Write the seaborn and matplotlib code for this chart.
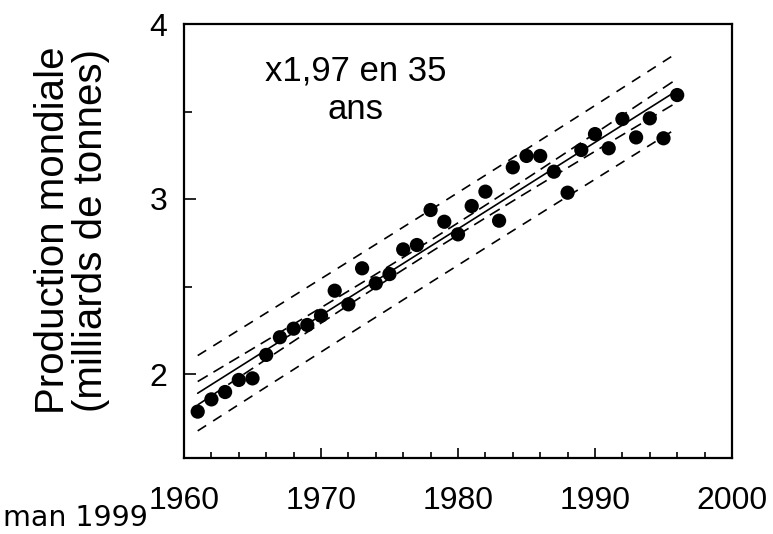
import numpy as np
import pandas as pd
import matplotlib
matplotlib.use("Agg")
import matplotlib.pyplot as plt
from matplotlib.ticker import MultipleLocator
import seaborn as sns

# ---- data ----
years = [1961, 1962, 1963, 1964, 1965, 1966, 1967, 1968, 1969, 1970,
         1971, 1972, 1973, 1974, 1975, 1976, 1977, 1978, 1979, 1980,
         1981, 1982, 1983, 1984, 1985, 1986, 1987, 1988, 1989, 1990,
         1991, 1992, 1993, 1994, 1995, 1996]
production = [1.785, 1.855, 1.897, 1.966, 1.975, 2.109, 2.210, 2.259, 2.280, 2.333,
              2.476, 2.398, 2.604, 2.518, 2.571, 2.712, 2.737, 2.937, 2.870, 2.798,
              2.960, 3.042, 2.876, 3.181, 3.246, 3.246, 3.156, 3.036, 3.280, 3.371,
              3.290, 3.457, 3.352, 3.461, 3.347, 3.594]
xticks = [1960, 1970, 1980, 1990, 2000]
yticks = [2, 3, 4]
annotation = "x1,97 en 35\nans"
ylabel = "Production mondiale\n(milliards de tonnes)"
source = "man 1999"

df = pd.DataFrame({"year": years, "prod": production})

# ---- linear fit with confidence / prediction bands ----
x = np.asarray(years, float)
y = np.asarray(production, float)
n = len(x)
slope, intercept = np.polyfit(x, y, 1)
resid = y - (slope * x + intercept)
s = np.sqrt(np.sum(resid ** 2) / (n - 2))
t975 = 2.032  # Student t, 34 dof
xx = np.linspace(x.min(), x.max(), 200)
fit = slope * xx + intercept
sxx = np.sum((x - x.mean()) ** 2)
conf = t975 * s * np.sqrt(1 / n + (xx - x.mean()) ** 2 / sxx)
pred = t975 * s * np.sqrt(1 + 1 / n + (xx - x.mean()) ** 2 / sxx)
bands = pd.DataFrame({"x": xx, "fit": fit,
                      "clo": fit - conf, "chi": fit + conf,
                      "plo": fit - pred, "phi": fit + pred})

# ---- style ----
sns.set_theme(style="ticks")
plt.rcParams["font.family"] = ["Liberation Sans", "DejaVu Sans"]
for key in ("text.color", "axes.labelcolor", "xtick.color", "ytick.color",
            "xtick.labelcolor", "ytick.labelcolor"):
    plt.rcParams[key] = "black"

fig = plt.figure(figsize=(7.73, 5.34), dpi=100)
ax = fig.add_axes([184 / 773, 1 - 458 / 534, (732 - 184) / 773, (458 - 24) / 534])

sns.lineplot(data=bands, x="x", y="fit", ax=ax, color="black", lw=1.2)
for col in ("clo", "chi"):
    sns.lineplot(data=bands, x="x", y=col, ax=ax, color="black", lw=1.2,
                 linestyle=(0, (7, 4)))
for col in ("plo", "phi"):
    sns.lineplot(data=bands, x="x", y=col, ax=ax, color="black", lw=1.2,
                 linestyle=(0, (6, 5)))

sns.scatterplot(data=df, x="year", y="prod", ax=ax, color="black",
                s=105, edgecolor="none", zorder=5)

ax.set_xlim(1960, 2000)
ax.set_ylim(1.52, 4.0)
ax.set_xticks(xticks)
ax.set_xticklabels([str(v) for v in xticks])
ax.set_yticks(yticks)
ax.set_yticklabels([str(v) for v in yticks])
ax.xaxis.set_minor_locator(MultipleLocator(2))
ax.yaxis.set_minor_locator(MultipleLocator(0.5))
ax.tick_params(axis="both", which="both", direction="in", color="black",
               labelcolor="black", width=1.2, top=False, right=False)
ax.tick_params(axis="x", which="major", length=7, labelsize=23, pad=20)
ax.tick_params(axis="x", which="minor", length=4.5)
ax.tick_params(axis="y", which="major", length=8.5, labelsize=23, pad=12)
ax.tick_params(axis="y", which="minor", length=6)
for sp in ax.spines.values():
    sp.set_visible(True)
    sp.set_color("black")
    sp.set_linewidth(1.6)

ax.set_xlabel("")
ax.set_ylabel(ylabel, fontsize=29, linespacing=1.0, color="black")
ax.yaxis.set_label_coords(-0.135, 0.525)

ax.text(1972.55, 3.62, annotation, ha="center", va="center", color="black",
        multialignment="center", fontsize=25, linespacing=1.2)

fig.text(3 / 773, 8 / 534, source, ha="left", va="baseline", color="black",
         fontsize=20.5, family=["DejaVu Sans"])

fig.savefig("out.png", dpi=100)
